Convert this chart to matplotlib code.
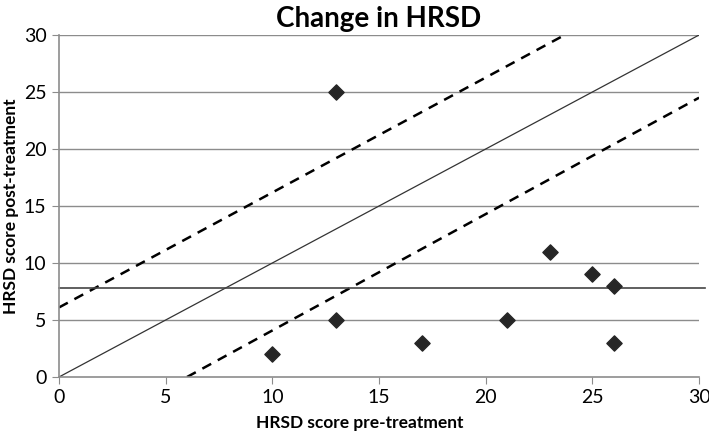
import matplotlib
matplotlib.use("Agg")
import matplotlib.pyplot as plt

plt.rcParams['font.family'] = ['Lato', 'DejaVu Sans']

pre = [10, 13, 13, 17, 21, 23, 25, 26, 26]
post = [2, 25, 5, 3, 5, 11, 9, 8, 3]
ticks = [0, 5, 10, 15, 20, 25, 30]
identity_x = [0, 30]
identity_y = [0, 30]
upper_x = [0, 23.7]
upper_y = [6.1, 30]
lower_x = [6, 30]
lower_y = [0, 24.5]
cutoff = 7.8

fig = plt.figure(figsize=(7.09, 4.32), dpi=100)
ax = fig.add_axes([0.0832, 0.1273, 0.9028, 0.7917])
ax.set_xlim(0, 30)
ax.set_ylim(0, 30)
ax.set_xticks(ticks)
ax.set_yticks(ticks)
for t in ticks[1:]:
    ax.axhline(t, color='#8c8c8c', lw=1.0, zorder=1)
ax.plot(identity_x, identity_y, color='#333333', lw=0.9, zorder=2)
ax.plot(upper_x, upper_y, color='black', lw=1.8, ls=(0, (4, 3)), zorder=2)
ax.plot(lower_x, lower_y, color='black', lw=1.8, ls=(0, (4, 3)), zorder=2)
ax.plot([0, 30.3], [cutoff, cutoff], color='#444444', lw=1.2, zorder=2, clip_on=False)
ax.scatter(pre, post, marker='D', s=60, color='#262626', zorder=3)

for s in ['top', 'right']:
    ax.spines[s].set_visible(False)
for s in ['left', 'bottom']:
    ax.spines[s].set_color('#8c8c8c')
    ax.spines[s].set_linewidth(1.2)
ax.tick_params(axis='both', colors='#8c8c8c', length=5, labelsize=14, labelcolor='black')
ax.tick_params(axis='y', pad=4)
ax.set_title('Change in HRSD', fontsize=20, fontweight='bold', pad=6)
ax.set_xlabel('HRSD score pre-treatment', fontsize=12.5, fontweight='bold')
ax.set_ylabel('HRSD score post-treatment', fontsize=12.5, fontweight='bold')
ax.xaxis.set_label_coords(0.47, -0.112)
ax.yaxis.set_label_coords(-0.062, 0.5)

fig.savefig('out.png', dpi=100)
